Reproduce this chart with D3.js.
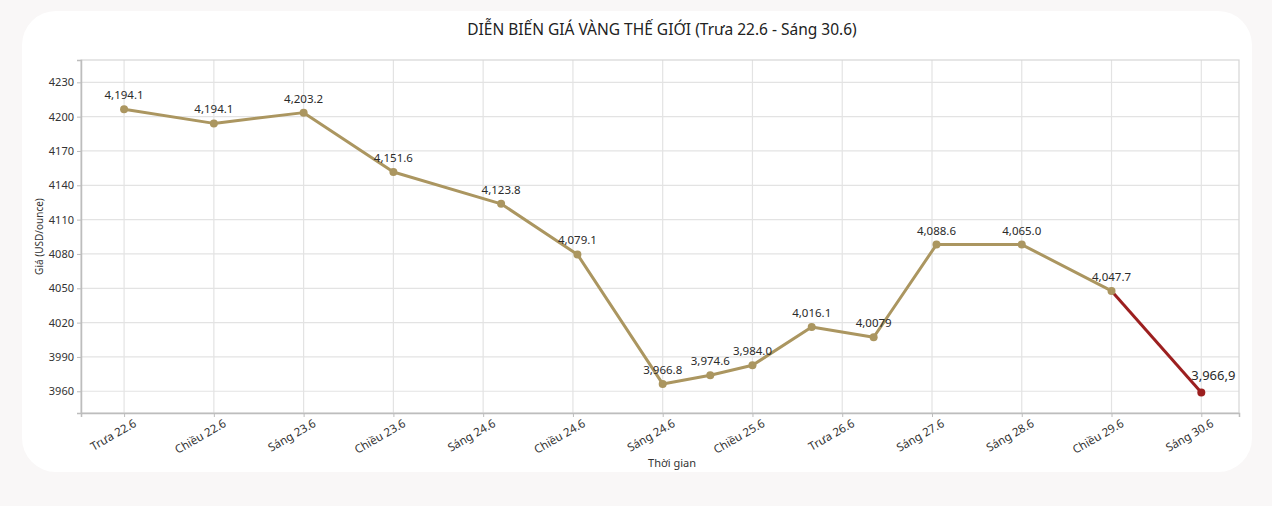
<!DOCTYPE html>
<html>
<head>
<meta charset="utf-8">
<script src="https://cdn.jsdelivr.net/npm/d3@7"></script>
<style>
    body { margin: 0; background: #f9f7f7; }
    svg { display: block; }
</style>
</head>
<body>
<div id="chart"></div>
<script>
// Data
const categories = ["Trưa 22.6", "Chiều 22.6", "Sáng 23.6", "Chiều 23.6", "Sáng 24.6", "Chiều 24.6",
    "Sáng 24.6", "Chiều 25.6", "Trưa 26.6", "Sáng 27.6", "Sáng 28.6", "Chiều 29.6", "Sáng 30.6"]
// position of each point along the time axis (tick index units)
const timePos = [0, 1, 2, 3, 4.2, 5.05, 6, 6.53, 7, 7.66, 8.35, 9.05, 10, 11, 12]
const prices = [4206.4, 4194.1, 4203.5, 4151.6, 4123.8, 4079.6, 3966.4, 3974.0, 3982.7, 4016.1, 4007.2, 4088.2, 4088.2, 4047.7, 3959.0]
const priceLabels = ["4,194.1", "4,194.1", "4,203.2", "4,151.6", "4,123.8", "4,079.1", "3,966.8", "3,974.6",
    "3,984.0", "4,016.1", "4,0079", "4,088.6", "4,065.0", "4,047.7", "3,966,9"]
const yTicks = [3960, 3990, 4020, 4050, 4080, 4110, 4140, 4170, 4200, 4230]

// Constants
const width = 1272
const height = 506
const margin = { top: 60, right: 33, bottom: 93, left: 81 }
const graphWidth = width - margin.left - margin.right
const graphHeight = height - margin.top - margin.bottom

const gold = '#ab9660'
const red = '#9c1f1f'
const fontFamily = "'Noto Sans', 'DejaVu Sans', sans-serif"

const data = timePos.map((t, i) => ({ t: t, price: prices[i], label: priceLabels[i] }))

// svg
const svg = d3.select("#chart")
    .append("svg")
    .attr("width", width)
    .attr("height", height)

// white card
svg.append("rect")
    .attr("x", 22)
    .attr("y", 11)
    .attr("width", 1230)
    .attr("height", 461)
    .attr("rx", 34)
    .attr("fill", "#ffffff")

// title
svg.append("text")
    .attr("x", 662)
    .attr("y", 35)
    .attr("text-anchor", "middle")
    .style("font-family", fontFamily)
    .style("font-size", "15.5px")
    .style("fill", "#222")
    .text("DIỄN BIẾN GIÁ VÀNG THẾ GIỚI (Trưa 22.6 - Sáng 30.6)")

const elementGroup = svg.append("g")
    .attr("transform", `translate(${margin.left}, ${margin.top})`)

// Scales
const x = d3.scaleLinear()
    .domain([-0.48, 12.42])
    .range([0, graphWidth])

const y = d3.scaleLinear()
    .domain([3941, 4249.5])
    .range([graphHeight, 0])

// Grid
elementGroup.append("g")
    .selectAll("line")
    .data(yTicks)
    .join("line")
    .attr("x1", 0)
    .attr("x2", graphWidth)
    .attr("y1", d => y(d))
    .attr("y2", d => y(d))
    .style("stroke", "#e3e3e3")
    .style("stroke-width", 1.2)

elementGroup.append("g")
    .selectAll("line")
    .data(d3.range(categories.length))
    .join("line")
    .attr("x1", d => x(d))
    .attr("x2", d => x(d))
    .attr("y1", 0)
    .attr("y2", graphHeight)
    .style("stroke", "#e3e3e3")
    .style("stroke-width", 1.2)

// frame
elementGroup.append("rect")
    .attr("width", graphWidth)
    .attr("height", graphHeight)
    .attr("fill", "none")
    .style("stroke", "#d6d6d6")
    .style("stroke-width", 1.2)

// Axes
const xAxis = d3.axisBottom(x)
    .tickValues(d3.range(categories.length))
    .tickFormat(i => categories[i])
    .tickSizeOuter(0)
    .tickSize(4)

const yAxis = d3.axisLeft(y)
    .tickValues(yTicks)
    .tickSizeOuter(0)
    .tickSize(4)
    .tickFormat(d3.format("d"))

const xAxisGroup = elementGroup.append("g")
    .attr("transform", `translate(0, ${graphHeight})`)
    .call(xAxis)

xAxisGroup.select(".domain").style("stroke", "#bdbdbd").style("stroke-width", 1.5)
xAxisGroup.selectAll("line").style("stroke", "#bdbdbd")
xAxisGroup.selectAll("text")
    .style("font-family", fontFamily)
    .style("font-size", "11.5px")
    .style("fill", "#333")
    .attr("text-anchor", "end")
    .attr("dx", "0.4em")
    .attr("dy", "0.9em")
    .attr("transform", "rotate(-30)")

const yAxisGroup = elementGroup.append("g")
    .call(yAxis)

yAxisGroup.select(".domain").style("stroke", "#bdbdbd").style("stroke-width", 1.5)
yAxisGroup.selectAll("line").style("stroke", "#bdbdbd")
yAxisGroup.selectAll("text")
    .style("font-family", fontFamily)
    .style("font-size", "11px")
    .style("fill", "#333")

// Axis titles
elementGroup.append("text")
    .attr("transform", "rotate(-90)")
    .attr("x", -graphHeight / 2)
    .attr("y", -38)
    .attr("text-anchor", "middle")
    .style("font-family", fontFamily)
    .style("font-size", "10px")
    .style("fill", "#333")
    .text("Giá (USD/ounce)")

elementGroup.append("text")
    .attr("x", graphWidth / 2 + 12)
    .attr("y", graphHeight + 54)
    .attr("text-anchor", "middle")
    .style("font-family", fontFamily)
    .style("font-size", "11px")
    .style("fill", "#333")
    .text("Thời gian")

// Line
const line = d3.line()
    .x(d => x(d.t))
    .y(d => y(d.price))

const last = data.length - 1

elementGroup.append("path")
    .datum(data.slice(0, last))
    .attr("d", line)
    .style("fill", "none")
    .style("stroke", gold)
    .style("stroke-width", 3)
    .style("stroke-linejoin", "round")

elementGroup.append("path")
    .datum(data.slice(last - 1))
    .attr("d", line)
    .style("fill", "none")
    .style("stroke", red)
    .style("stroke-width", 3)

// Points
elementGroup.selectAll(".dot")
    .data(data)
    .join("circle")
    .attr("class", "dot")
    .attr("cx", d => x(d.t))
    .attr("cy", d => y(d.price))
    .attr("r", 4)
    .attr("fill", (d, i) => i === last ? red : gold)

// Value labels
elementGroup.selectAll(".label")
    .data(data)
    .join("text")
    .attr("class", "label")
    .attr("x", d => x(d.t))
    .attr("y", d => y(d.price))
    .attr("dx", (d, i) => i === last ? 12 : 0)
    .attr("dy", (d, i) => i === last ? -12 : -10)
    .attr("text-anchor", "middle")
    .style("font-family", fontFamily)
    .style("font-size", (d, i) => i === last ? "13px" : "11.5px")
    .style("fill", "#2a2a2a")
    .text(d => d.label)
</script>
</body>
</html>
